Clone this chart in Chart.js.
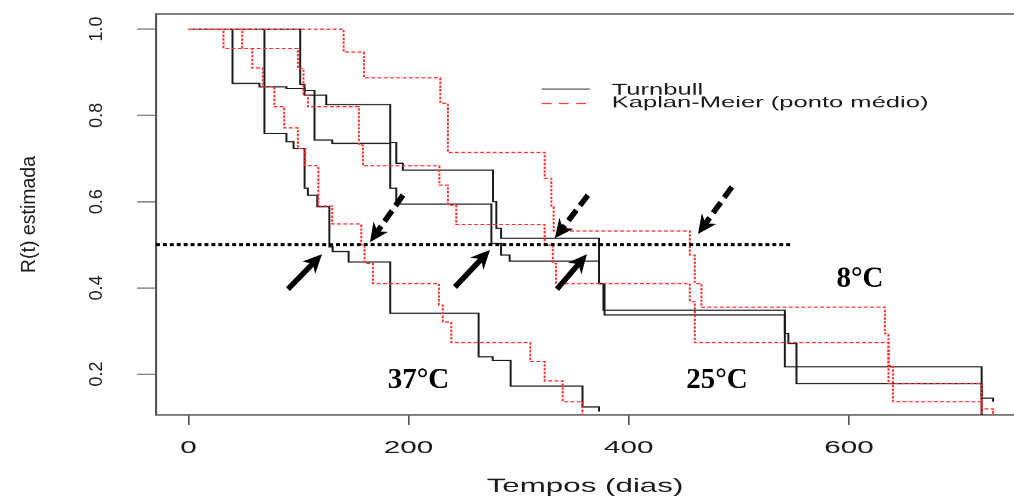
<!DOCTYPE html>
<html lang="pt">
<head>
  <meta charset="UTF-8">
  <title>R(t) estimada</title>
  <script src="https://cdn.jsdelivr.net/npm/chart.js"></script>
  <style>
    html, body {
      margin: 0;
      padding: 0;
      background: #fff;
      overflow: hidden;
    }

    /* the plot is drawn narrow and stretched sideways */
    #wrap {
      width: 615px;
      height: 498px;
      transform: scaleX(1.64878);
      transform-origin: 0 0;
    }
  </style>
</head>
<body>
  <div id="wrap">
    <canvas id="rtChart" width="615" height="498"></canvas>
  </div>

  <script>
const S = 1014 / 615;

// Turnbull (solid black)
const t37Turnbull = [0, 69, 89, 95.5, 105.5, 108.5, 117, 128, 131, 145.5, 183.3, 263.6, 276.4, 292.7, 358, 373];
const r37Turnbull = [1.0, 0.758, 0.739, 0.723, 0.631, 0.615, 0.588, 0.495, 0.484, 0.46, 0.341, 0.24, 0.232, 0.172, 0.124, 0.113];

const t25Turnbull = [0, 40, 64.5, 89, 105.5, 114.5, 130.6, 183.3, 188.8, 275.2, 284, 291.8, 373, 378, 541.8, 545, 552.4, 720.6];
const r25Turnbull = [1.0, 0.874, 0.866, 0.862, 0.858, 0.743, 0.735, 0.631, 0.594, 0.503, 0.476, 0.462, 0.41, 0.337, 0.294, 0.271, 0.178, 0.05];

const t8Turnbull = [0, 101.5, 105.5, 125.2, 183.3, 188.8, 194.8, 276.7, 279.7, 284, 373, 377, 541.8, 720.6, 731];
const r8Turnbull = [1.0, 0.872, 0.847, 0.825, 0.737, 0.689, 0.673, 0.6, 0.538, 0.515, 0.41, 0.348, 0.217, 0.144, 0.136];

// Kaplan-Meier with interval mid points (red dotted)
const t37KM = [0, 31.8, 58, 67.5, 78, 87, 99.4, 106, 118, 130.6, 157, 160, 167.6, 227.5, 231, 238.8, 310.6, 323.6, 340, 357.9];
const r37KM = [1.0, 0.955, 0.91, 0.866, 0.82, 0.771, 0.723, 0.683, 0.59, 0.548, 0.5, 0.457, 0.41, 0.36, 0.321, 0.273, 0.229, 0.184, 0.136, 0.0];

const t25KM = [0, 48.8, 99.4, 104.5, 108.5, 154.8, 158.5, 228, 235.7, 243.3, 323.6, 331, 334, 455.5, 460, 636, 640, 720.6];
const r25KM = [1.0, 0.955, 0.909, 0.847, 0.82, 0.731, 0.683, 0.638, 0.592, 0.547, 0.499, 0.457, 0.41, 0.368, 0.273, 0.22, 0.136, 0.0];

const t8KM = [0, 141, 159.4, 228.8, 235.7, 323.6, 329.7, 331.8, 455.5, 460, 466, 632.7, 636, 720.6, 731];
const r8KM = [1.0, 0.947, 0.887, 0.828, 0.714, 0.654, 0.588, 0.532, 0.476, 0.41, 0.355, 0.294, 0.178, 0.119, 0.0];

// median reference line
const medianLevel = 0.5;
const medianSpan = [-29.5, 549];

const xTicks = [0, 200, 400, 600];
const yTicks = [0.2, 0.4, 0.6, 0.8, 1.0];

const legendNames = ["Turnbull", "Kaplan-Meier (ponto médio)"];

// arrows: [tempo, R] of tail then tip
const solidArrows = [[90.4, 0.397, 121.3, 0.478], [242.1, 0.402, 273.9, 0.488], [334.8, 0.397, 362.0, 0.478]];
const dashedArrows = [[194.9, 0.615, 164.9, 0.506], [362.9, 0.615, 332.9, 0.515], [493.7, 0.634, 462.9, 0.525]];
const tempNames = ["37°C", "25°C", "8°C"];
const tempAt = [[208.9, 0.184], [480.1, 0.184], [610, 0.42]];

const ink = "#1a1a1a";
const frame = "#555";
const red = "#ff3030";

function pts(ts, rs) {
  return ts.map((t, i) => ({ x: t, y: rs[i] }));
}

function curve(ts, rs, color, dash) {
  return {
    data: pts(ts, rs),
    borderColor: color,
    borderWidth: 1.2,
    borderDash: dash,
    borderCapStyle: "butt",
    pointRadius: 0,
    stepped: true,
    fill: false
  };
}

function arrow(ctx, x0, y0, x1, y1, dashed) {
  const a = Math.atan2(y1 - y0, x1 - x0);
  const c = Math.cos(a), s = Math.sin(a);
  const hl = 19, hw = 9, notch = 13;
  const bx = x1 - notch * c, by = y1 - notch * s;
  ctx.lineWidth = 5.5;
  ctx.setLineDash(dashed ? [13, 6] : []);
  ctx.beginPath();
  ctx.moveTo(x0, y0);
  ctx.lineTo(bx, by);
  ctx.stroke();
  ctx.setLineDash([]);
  const ex = x1 - hl * c, ey = y1 - hl * s;
  ctx.beginPath();
  ctx.moveTo(x1, y1);
  ctx.lineTo(ex + hw * s, ey - hw * c);
  ctx.lineTo(bx, by);
  ctx.lineTo(ex - hw * s, ey + hw * c);
  ctx.closePath();
  ctx.fill();
}

const extras = {
  id: "extras",
  afterDraw(chart) {
    const { ctx, chartArea: area, scales: { x, y } } = chart;

    // top of the frame
    ctx.save();
    ctx.strokeStyle = frame;
    ctx.lineWidth = 1.3;
    ctx.beginPath();
    ctx.moveTo(area.left, area.top);
    ctx.lineTo(area.right, area.top);
    ctx.stroke();

    // legend (stretched like the axis text)
    ctx.lineWidth = 1;
    ctx.strokeStyle = ink;
    ctx.beginPath();
    ctx.moveTo(328.5, 89);
    ctx.lineTo(357.8, 89);
    ctx.stroke();
    ctx.strokeStyle = red;
    ctx.setLineDash([6, 4.5]);
    ctx.beginPath();
    ctx.moveTo(328.5, 103.5);
    ctx.lineTo(357.8, 103.5);
    ctx.stroke();
    ctx.setLineDash([]);
    ctx.fillStyle = ink;
    ctx.font = "15.5px 'Liberation Sans', Arial, sans-serif";
    ctx.textBaseline = "alphabetic";
    ctx.fillText(legendNames[0], 371, 94.5);
    ctx.fillText(legendNames[1], 371, 107.5);
    ctx.restore();

    // everything below is drawn in unstretched units
    ctx.save();
    ctx.scale(1 / S, 1);
    const px = v => x.getPixelForValue(v) * S;
    const py = v => y.getPixelForValue(v);

    // rotated y tick labels and axis title
    ctx.fillStyle = ink;
    ctx.font = "18px 'Liberation Sans Narrow', 'Liberation Sans', Arial, sans-serif";
    ctx.textAlign = "center";
    ctx.textBaseline = "alphabetic";
    y.ticks.forEach(t => {
      ctx.save();
      ctx.translate(102, py(t.value));
      ctx.rotate(-Math.PI / 2);
      ctx.fillText(t.value.toFixed(1), 0, 0);
      ctx.restore();
    });
    ctx.save();
    ctx.font = "19.5px 'Liberation Sans Narrow', 'Liberation Sans', Arial, sans-serif";
    ctx.translate(35, (area.top + area.bottom) / 2);
    ctx.rotate(-Math.PI / 2);
    ctx.fillText("R(t) estimada", 0, 0);
    ctx.restore();

    // arrows at the median times
    ctx.fillStyle = "#000";
    ctx.strokeStyle = "#000";
    solidArrows.forEach(a => arrow(ctx, px(a[0]), py(a[1]), px(a[2]), py(a[3]), false));
    dashedArrows.forEach(a => arrow(ctx, px(a[0]), py(a[1]), px(a[2]), py(a[3]), true));

    // temperature labels
    ctx.font = "bold 29px 'Liberation Serif', 'Times New Roman', serif";
    ctx.textAlign = "center";
    ctx.textBaseline = "middle";
    tempNames.forEach((name, i) => {
      ctx.fillText(name, px(tempAt[i][0]), py(tempAt[i][1]));
    });
    ctx.restore();
  }
};

const ctx = document.getElementById("rtChart").getContext("2d");
new Chart(ctx, {
  type: "line",
  data: {
    datasets: [
      {
        data: [{ x: medianSpan[0], y: medianLevel }, { x: medianSpan[1], y: medianLevel }],
        borderColor: "#000",
        borderWidth: 3,
        borderDash: [2.4, 1.8],
        borderCapStyle: "butt",
        pointRadius: 0,
        fill: false
      },
      curve(t37KM, r37KM, red, [2.4, 1.4]),
      curve(t25KM, r25KM, red, [2.4, 1.4]),
      curve(t8KM, r8KM, red, [2.4, 1.4]),
      curve(t37Turnbull, r37Turnbull, ink, []),
      curve(t25Turnbull, r25Turnbull, ink, []),
      curve(t8Turnbull, r8Turnbull, ink, [])
    ]
  },
  options: {
    responsive: false,
    animation: false,
    devicePixelRatio: S,
    layout: { padding: { top: 14, left: 0, right: 0, bottom: 0 } },
    plugins: {
      legend: { display: false },
      tooltip: { enabled: false }
    },
    scales: {
      x: {
        type: "linear",
        min: -29.5,
        max: 750,
        afterBuildTicks: s => { s.ticks = xTicks.map(v => ({ value: v })); },
        afterFit: s => { s.height = 83; },
        grid: { drawOnChartArea: false, drawTicks: true, tickLength: 10, color: frame, lineWidth: 1 },
        border: { display: true, color: frame, width: 1.3 },
        ticks: {
          color: ink,
          padding: 12,
          maxRotation: 0,
          autoSkip: false,
          font: { family: "'Liberation Sans', Arial, sans-serif", size: 18 },
          callback: v => String(v)
        },
        title: {
          display: true,
          text: "Tempos (dias)",
          color: ink,
          padding: 0,
          font: { family: "'Liberation Sans', Arial, sans-serif", size: 19 }
        }
      },
      y: {
        type: "linear",
        min: 0.105,
        max: 1.035,
        afterBuildTicks: s => { s.ticks = yTicks.map(v => ({ value: v })); },
        afterFit: s => { s.width = 156 / S; },
        grid: { drawOnChartArea: false, drawTicks: true, tickLength: 11.5, color: frame, lineWidth: 1 },
        border: { display: true, color: frame, width: 1.3 },
        ticks: { display: false }
      }
    }
  },
  plugins: [extras]
});
  </script>
</body>
</html>
